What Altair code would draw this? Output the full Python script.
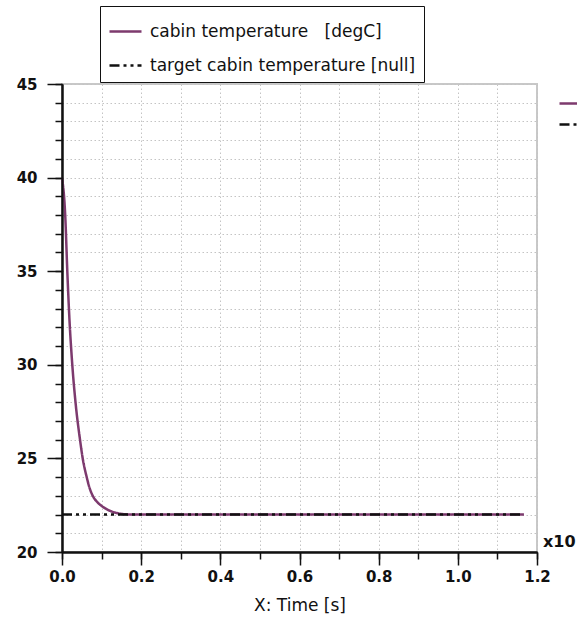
import altair as alt
import pandas as pd

# ---- data ----
cabin_time = [0.0, 0.0083, 0.0134, 0.0184, 0.026, 0.0346, 0.0455, 0.0523, 0.0624,
              0.070, 0.079, 0.090, 0.104, 0.117, 0.130, 0.145, 0.165, 0.2, 1.167]
cabin_temp = [40.0, 37.9, 35.0, 32.6, 30.0, 27.9, 26.0, 25.0, 24.0,
              23.4, 22.95, 22.65, 22.40, 22.24, 22.13, 22.05, 22.01, 22.0, 22.0]
target_time = [0.0, 1.167]
target_temp = [22.0, 22.0]
series_names = ["cabin temperature\u00a0\u00a0 [degC]", "target cabin temperature [null]"]

x_major = [0.0, 0.2, 0.4, 0.6, 0.8, 1.0, 1.2]
x_minor = [0.0, 0.1, 0.2, 0.3, 0.4, 0.5, 0.6, 0.7, 0.8, 0.9, 1.0, 1.1, 1.2]
y_major = [20, 25, 30, 35, 40, 45]
y_minor = list(range(20, 46))
x_title = "X: Time [s]"
exp_label = ["x10"]

PURPLE = "#7d3a6e"
BLACK = "#111111"
FONT = "DejaVu Sans"

rows = []
for t, v in zip(cabin_time, cabin_temp):
    rows.append({"time": t, "temp": v, "series": series_names[0]})
for t, v in zip(target_time, target_temp):
    rows.append({"time": t, "temp": v, "series": series_names[1]})
df = pd.DataFrame(rows)
df["series2"] = df["series"]

xs = alt.Scale(domain=[0, 1.2], nice=False, zero=False)
ys = alt.Scale(domain=[20, 45], nice=False, zero=False)
dash_range = [[1, 0], [10, 4, 3, 4, 3, 4]]

minor_x = alt.Axis(orient="bottom", values=x_minor, labels=False, title=None,
                   tickSize=7, tickWidth=1.5, tickColor=BLACK,
                   domain=True, domainColor=BLACK, domainWidth=2,
                   grid=True, gridColor="#c4c4c4", gridDash=[1.5, 2.5], gridWidth=1, zindex=0)
minor_y = alt.Axis(orient="left", values=y_minor, labels=False, title=None,
                   tickSize=7, tickWidth=1.5, tickColor=BLACK,
                   domain=True, domainColor=BLACK, domainWidth=2,
                   grid=True, gridColor="#c4c4c4", gridDash=[1.5, 2.5], gridWidth=1, zindex=0)
major_x = alt.Axis(orient="bottom", values=x_major, format=".1f", grid=False,
                   tickSize=13, tickWidth=1.5, tickColor=BLACK,
                   domain=True, domainColor=BLACK, domainWidth=2,
                   labelFont=FONT, labelFontSize=15, labelFontWeight="bold", labelColor=BLACK,
                   labelPadding=4, labelFlush=False,
                   title=x_title, titleFont=FONT, titleFontSize=17, titleFontWeight="normal",
                   titleColor=BLACK, titlePadding=13, zindex=1)
major_y = alt.Axis(orient="left", values=y_major, format="d", grid=False,
                   tickSize=15, tickWidth=1.5, tickColor=BLACK,
                   domain=True, domainColor=BLACK, domainWidth=2,
                   labelFont=FONT, labelFontSize=15, labelFontWeight="bold", labelColor=BLACK,
                   labelPadding=10, title=None, zindex=1)

leg1 = alt.Legend(orient="none", legendX=38, legendY=-78, title=None,
                  symbolType="stroke", symbolSize=1024, symbolStrokeWidth=2.5,
                  labelFont=FONT, labelFontSize=17, labelColor=BLACK, labelOffset=7,
                  padding=8, rowPadding=8, fillColor="white", strokeColor=BLACK,
                  labelLimit=400)
# second legend of the original sits past the right edge: only its symbols show
leg2 = alt.Legend(orient="none", legendX=496, legendY=8, title=None,
                  symbolType="stroke", symbolSize=400, symbolStrokeWidth=2.5,
                  symbolOpacity=1, labelExpr="''",
                  labelFont=FONT, labelFontSize=14, labelColor=BLACK, labelOffset=4,
                  padding=0, rowPadding=2, labelLimit=400)

grid_layer = alt.Chart(df).mark_line(opacity=0, strokeWidth=2.5).encode(
    x=alt.X("time:Q", scale=xs, axis=minor_x),
    y=alt.Y("temp:Q", scale=ys, axis=minor_y),
    color=alt.Color("series2:N", scale=alt.Scale(domain=series_names, range=[PURPLE, BLACK]), legend=leg2),
    strokeDash=alt.StrokeDash("series2:N", scale=alt.Scale(domain=series_names, range=dash_range), legend=leg2),
)

line_layer = alt.Chart(df).mark_line(strokeWidth=2.5, interpolate="monotone").encode(
    x=alt.X("time:Q", scale=xs, axis=major_x),
    y=alt.Y("temp:Q", scale=ys, axis=major_y),
    color=alt.Color("series:N", scale=alt.Scale(domain=series_names, range=[PURPLE, BLACK]), legend=leg1),
    strokeDash=alt.StrokeDash("series:N", scale=alt.Scale(domain=series_names, range=dash_range), legend=leg1),
)

exp_layer = alt.Chart(pd.DataFrame({"label": exp_label})).mark_text(
    align="left", baseline="middle", font=FONT, fontSize=16, fontWeight="bold", color=BLACK
).encode(x=alt.value(481), y=alt.value(458), text="label:N")

chart = alt.layer(grid_layer, line_layer, exp_layer).resolve_axis(
    x="independent", y="independent"
).resolve_scale(
    color="independent", strokeDash="independent"
).properties(
    width=475, height=468,
    autosize=alt.AutoSizeParams(type="none"),
    padding={"left": 62, "top": 84, "right": 40, "bottom": 69},
    background="white",
).configure_view(stroke="#c8c8c8", strokeWidth=2)

chart.save("out.html", embed_options={"renderer": "svg", "actions": False})
